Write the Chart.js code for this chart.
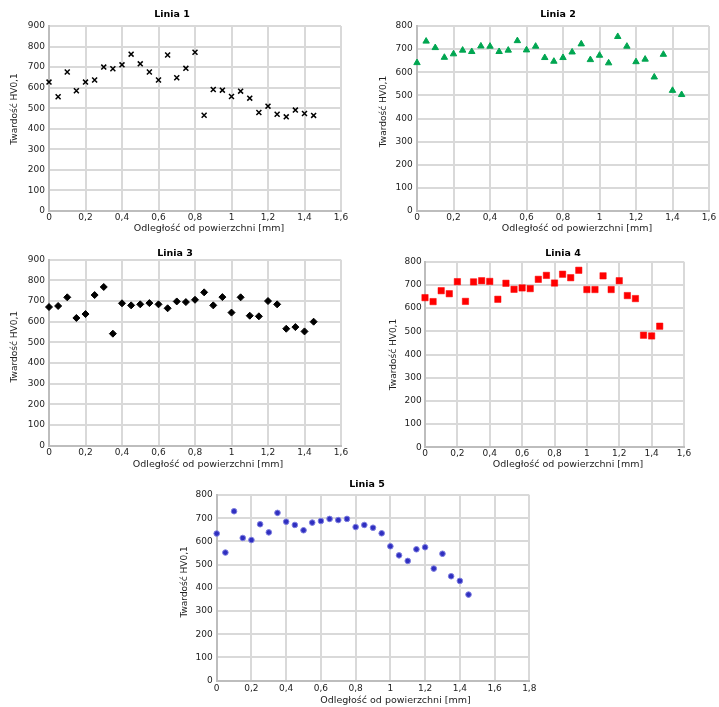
<!DOCTYPE html>
<html><head><meta charset="utf-8">
<script src="https://cdn.jsdelivr.net/npm/chart.js@4.4.1/dist/chart.umd.min.js"></script>
<style>
html,body{margin:0;padding:0;background:#fff;width:719px;height:707px;overflow:hidden;position:relative}
canvas{position:absolute}
</style></head><body>
<canvas id="c1"></canvas>
<canvas id="c2"></canvas>
<canvas id="c3"></canvas>
<canvas id="c4"></canvas>
<canvas id="c5"></canvas>
<script>
// ---- data ----
const distances = [0, 0.05, 0.1, 0.15, 0.2, 0.25, 0.3, 0.35, 0.4, 0.45, 0.5, 0.55, 0.6, 0.65, 0.7, 0.75, 0.8, 0.85, 0.9, 0.95, 1, 1.05, 1.1, 1.15, 1.2, 1.25, 1.3, 1.35, 1.4, 1.45];
const hardness1 = [627, 556, 676, 585, 627, 637, 700, 692, 711, 763, 716, 676, 637, 759, 648, 694, 772, 466, 591, 588, 557, 583, 549, 479, 510, 471, 458, 491, 474, 465];
const hardness2 = [641, 734, 706, 664, 679, 695, 689, 713, 712, 689, 695, 736, 696, 712, 663, 647, 663, 687, 722, 654, 673, 640, 754, 712, 645, 656, 579, 677, 521, 503];
const hardness3 = [671, 676, 718, 618, 637, 729, 768, 542, 689, 679, 684, 690, 684, 665, 698, 695, 706, 742, 679, 719, 644, 718, 629, 626, 700, 684, 566, 574, 553, 600];
const hardness4 = [645, 628, 675, 662, 714, 629, 713, 718, 715, 638, 707, 681, 687, 684, 724, 741, 708, 746, 731, 763, 680, 680, 739, 680, 718, 654, 641, 483, 480, 522];
const hardness5 = [634, 552, 730, 615, 606, 674, 639, 723, 685, 671, 648, 681, 688, 697, 692, 697, 662, 671, 659, 635, 579, 540, 516, 566, 575, 483, 547, 450, 430, 371];
const chartTitles = ['Linia 1', 'Linia 2', 'Linia 3', 'Linia 4', 'Linia 5'];
const xTickLabels16 = ['0', '0,2', '0,4', '0,6', '0,8', '1', '1,2', '1,4', '1,6'];
const xTickLabels18 = ['0', '0,2', '0,4', '0,6', '0,8', '1', '1,2', '1,4', '1,6', '1,8'];
const yTickLabels900 = ['0', '100', '200', '300', '400', '500', '600', '700', '800', '900'];
const yTickLabels800 = ['0', '100', '200', '300', '400', '500', '600', '700', '800'];
const xAxisTitle = 'Odległość od powierzchni [mm]';
const yAxisTitle = 'Twardość HV0,1';

const FONT = '"DejaVu Sans", Verdana, sans-serif';

function build(id, g, title, values, xLabels, yLabels, xMax, yMax, style) {
  const cv = document.getElementById(id);
  cv.width = g.width; cv.height = g.height;
  cv.style.left = g.left + 'px'; cv.style.top = g.top + 'px';
  cv.style.width = g.width + 'px'; cv.style.height = g.height + 'px';
  const pts = distances.map((d, i) => ({x: d, y: values[i]}));
  function patch(scale, axis) {
    if (scale._patched) return;
    scale._patched = true;
    const orig = scale.drawTitle;
    scale.drawTitle = function () {
      const ctx = this.ctx;
      ctx.save();
      if (axis === 'x') ctx.translate(g.dx, 0); else ctx.translate(0, g.dy);
      orig.call(this);
      ctx.restore();
    };
  }
  return new Chart(cv, {
    type: 'scatter',
    data: {datasets: [Object.assign({data: pts, showLine: false, clip: false}, style)]},
    options: {
      responsive: false, animation: false, devicePixelRatio: 1,
      layout: {padding: 0},
      plugins: {
        legend: {display: false}, tooltip: {enabled: false},
        title: {display: true, text: title, color: '#000',
          font: {family: FONT, size: 9.5, weight: 'bold'},
          padding: {top: g.tp[0], bottom: g.tp[1]}}
      },
      scales: {
        x: {
          type: 'linear', min: 0, max: xMax,
          grid: {color: '#d9d9d9', lineWidth: 2, drawTicks: false},
          border: {color: '#bdbdbd', width: 2},
          ticks: {stepSize: 0.2, padding: g.xtp, color: '#222', maxRotation: 0, autoSkip: false,
            font: {family: FONT, size: 9},
            callback: (v, i) => xLabels[i]},
          title: {display: true, text: xAxisTitle, color: '#222',
            font: {family: FONT, size: 9.5}, padding: {top: 0, bottom: g.xtb}},
          afterFit: (s) => { s.height = g.xh; s.paddingLeft = 0; s.paddingRight = g.rg; s.paddingTop = 0; s.paddingBottom = 0; patch(s, 'x'); }
        },
        y: {
          type: 'linear', min: 0, max: yMax,
          grid: {color: '#d9d9d9', lineWidth: 2, drawTicks: false},
          border: {color: '#bdbdbd', width: 2},
          ticks: {stepSize: 100, padding: g.ytp, color: '#222', autoSkip: false,
            font: {family: FONT, size: 9},
            callback: (v, i) => yLabels[i]},
          title: {display: true, text: yAxisTitle, color: '#222',
            font: {family: FONT, size: 9}, padding: {top: g.ytt, bottom: 0}},
          afterFit: (s) => { s.width = g.yw; s.paddingTop = 0; s.paddingBottom = 0; s.paddingLeft = 0; s.paddingRight = 0; patch(s, 'y'); }
        }
      }
    }
  });
}

build('c1', {left: -10, top: 0, width: 364, height: 236, yw: 59, rg: 13, xh: 25, tp: [8.8, 5.8], xtp: 1, ytp: 4, xtb: 1.6, ytt: 19.6, dx: 14, dy: -9.5},
  chartTitles[0], hardness1, xTickLabels16, yTickLabels900, 1.6, 900,
  {pointStyle: 'crossRot', pointRadius: 3.5, borderColor: '#000', backgroundColor: '#000', borderWidth: 1.5});

build('c2', {left: 370, top: 0, width: 376, height: 236, yw: 47, rg: 37, xh: 25, tp: [8.8, 5.8], xtp: 1, ytp: 4.3, xtb: 1.3, ytt: 8.6, dx: 14, dy: -7},
  chartTitles[1], hardness2, xTickLabels16, yTickLabels800, 1.6, 800,
  {pointStyle: 'triangle', pointRadius: 3.7, borderColor: '#00a651', backgroundColor: '#00a651', borderWidth: 1});

build('c3', {left: -10, top: 240, width: 370, height: 231, yw: 59, rg: 19, xh: 25.3, tp: [8.3, 0], xtp: 2, ytp: 4, xtb: 0.6, ytt: 19.6, dx: 13, dy: -6},
  chartTitles[2], hardness3, xTickLabels16, yTickLabels900, 1.6, 900,
  {pointStyle: 'rectRot', pointRadius: 3.5, borderColor: '#000', backgroundColor: '#000', borderWidth: 1});

build('c4', {left: 380, top: 240, width: 366, height: 231, yw: 45, rg: 62, xh: 23.7, tp: [8.3, 2], xtp: 1.3, ytp: 3.3, xtb: 0.3, ytt: 7.9, dx: 13.5, dy: 0},
  chartTitles[3], hardness4, xTickLabels16, yTickLabels800, 1.6, 800,
  {pointStyle: 'rect', pointRadius: 4.5, borderColor: '#ff0000', backgroundColor: '#ff0000', borderWidth: 0.5});

build('c5', {left: 175, top: 472, width: 384, height: 235, yw: 41.7, rg: 29.7, xh: 26.3, tp: [7.3, 4.3], xtp: 2.2, ytp: 4, xtb: 0.3, ytt: 4.6, dx: 22.5, dy: -6},
  chartTitles[4], hardness5, xTickLabels18, yTickLabels800, 1.8, 800,
  {pointStyle: 'circle', pointRadius: 2.8, borderColor: '#8080e0', backgroundColor: '#2f2fc0', borderWidth: 1});
</script>
</body></html>
